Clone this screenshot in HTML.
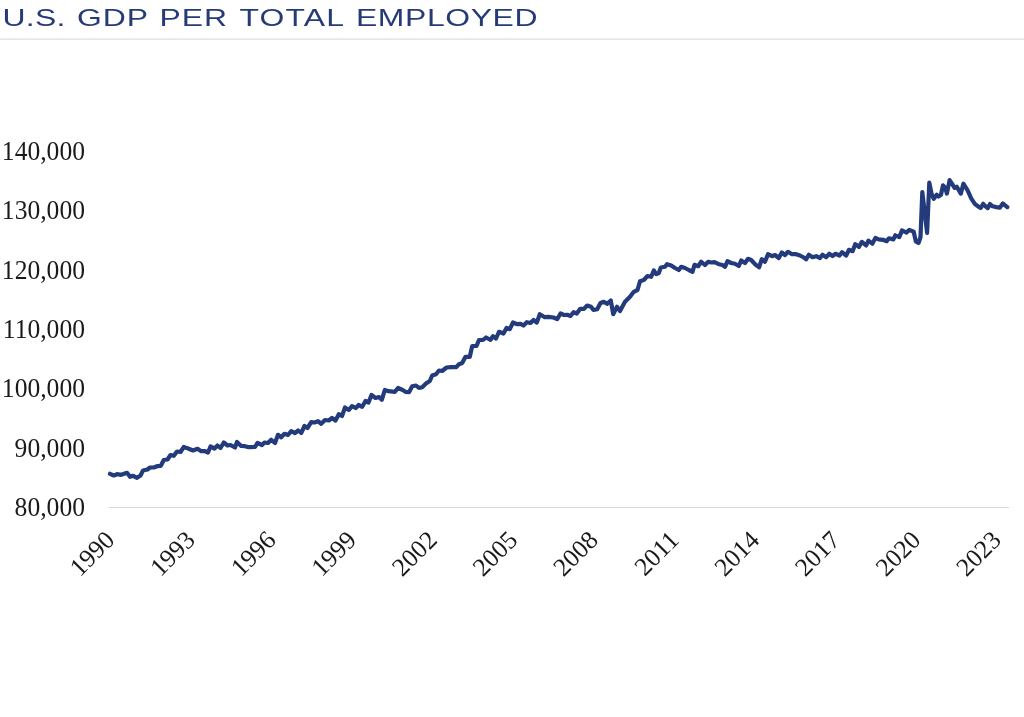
<!DOCTYPE html>
<html><head><meta charset="utf-8"><title>U.S. GDP per Total Employed</title>
<style>
html,body{margin:0;padding:0;background:#fff;}
body{width:1024px;height:717px;overflow:hidden;position:relative;font-family:"Liberation Serif",serif;}
svg{position:absolute;left:0;top:0;display:block}
.title{font-family:"Liberation Sans",sans-serif;font-size:24px;fill:#263a78;}
.yl{font-family:"Liberation Serif",serif;font-size:25.6px;fill:#1a1a1a;text-anchor:end;}
.xl{font-family:"Liberation Serif",serif;font-size:25.5px;fill:#1a1a1a;text-anchor:end;}
</style></head><body>
<svg width="1024" height="717" viewBox="0 0 1024 717">
<rect width="1024" height="717" fill="#fff"/>
<text class="title" transform="translate(0,25.8) scale(1.33,1)"><tspan x="1.88" textLength="47.37" lengthAdjust="spacing">U.S.</tspan> <tspan x="57.89" textLength="53.38" lengthAdjust="spacing">GDP</tspan> <tspan x="119.92" textLength="50.75" lengthAdjust="spacing">PER</tspan> <tspan x="180.08" textLength="78.57" lengthAdjust="spacing">TOTAL</tspan> <tspan x="267.67" textLength="136.47" lengthAdjust="spacing">EMPLOYED</tspan></text>
<rect x="0" y="38.5" width="1024" height="1.2" fill="#dcdcdc"/>
<rect x="109" y="507" width="900" height="1" fill="#d9d9d9"/>
<text class="yl" transform="translate(85,160.0) scale(1,1.05)">140,000</text>
<text class="yl" transform="translate(85,219.3) scale(1,1.05)">130,000</text>
<text class="yl" transform="translate(85,278.6) scale(1,1.05)">120,000</text>
<text class="yl" transform="translate(85,337.9) scale(1,1.05)">110,000</text>
<text class="yl" transform="translate(85,397.2) scale(1,1.05)">100,000</text>
<text class="yl" transform="translate(85,456.5) scale(1,1.05)">90,000</text>
<text class="yl" transform="translate(85,515.8) scale(1,1.05)">80,000</text>
<text class="xl" transform="translate(116.0,541.5) rotate(-45)">1990</text>
<text class="xl" transform="translate(196.6,541.5) rotate(-45)">1993</text>
<text class="xl" transform="translate(277.2,541.5) rotate(-45)">1996</text>
<text class="xl" transform="translate(357.8,541.5) rotate(-45)">1999</text>
<text class="xl" transform="translate(438.4,541.5) rotate(-45)">2002</text>
<text class="xl" transform="translate(519.0,541.5) rotate(-45)">2005</text>
<text class="xl" transform="translate(599.6,541.5) rotate(-45)">2008</text>
<text class="xl" transform="translate(680.2,541.5) rotate(-45)">2011</text>
<text class="xl" transform="translate(760.8,541.5) rotate(-45)">2014</text>
<text class="xl" transform="translate(841.4,541.5) rotate(-45)">2017</text>
<text class="xl" transform="translate(922.0,541.5) rotate(-45)">2020</text>
<text class="xl" transform="translate(1002.6,541.5) rotate(-45)">2023</text>
<path d="M110.0,473.8 L113.8,475.5 L117.0,474.2 L121.2,474.8 L127.0,472.8 L130.0,476.8 L133.2,475.8 L137.0,477.8 L140.5,475.5 L143.0,470.5 L147.5,469.5 L150.0,467.5 L153.8,467.5 L157.0,466.2 L160.8,465.8 L163.8,460.0 L167.5,459.5 L170.5,455.0 L173.8,455.8 L177.0,451.5 L180.5,452.0 L183.8,447.0 L187.5,448.2 L193.0,450.5 L197.5,448.8 L201.2,451.2 L204.5,451.0 L208.0,452.5 L210.5,446.5 L214.5,448.5 L217.5,445.5 L220.5,448.0 L223.8,442.5 L227.5,445.5 L230.5,445.0 L235.0,447.5 L237.0,442.0 L241.2,446.0 L245.0,446.2 L248.8,447.2 L255.0,446.8 L257.5,443.0 L262.0,445.0 L264.5,442.5 L268.0,443.0 L271.2,439.8 L275.0,443.0 L278.0,434.8 L281.2,437.2 L284.5,433.8 L288.0,435.0 L291.2,431.2 L295.0,433.0 L298.2,430.5 L301.2,433.0 L304.5,426.0 L307.5,428.0 L311.2,422.2 L314.5,422.5 L318.0,421.2 L321.2,423.8 L325.0,420.0 L328.8,420.5 L332.0,418.0 L335.5,420.5 L338.8,414.2 L342.0,416.0 L345.0,407.5 L348.8,410.0 L352.0,406.2 L356.0,408.0 L358.5,405.0 L362.2,406.8 L365.5,401.0 L368.5,402.5 L371.5,395.0 L375.5,398.0 L379.0,397.0 L381.8,399.8 L384.8,390.0 L388.5,391.2 L394.8,391.8 L398.0,388.0 L402.2,389.8 L405.5,391.8 L409.0,392.2 L412.2,386.2 L416.0,385.5 L419.0,388.0 L422.2,387.2 L426.0,383.5 L429.8,381.0 L432.2,375.5 L436.0,374.2 L439.0,370.5 L442.2,371.0 L446.5,367.5 L451.0,367.2 L456.0,367.2 L459.0,364.2 L462.2,363.0 L465.5,356.8 L469.8,356.8 L472.2,346.0 L476.5,346.0 L479.0,340.0 L483.0,340.0 L486.0,337.5 L490.5,339.8 L493.0,336.2 L496.0,338.5 L499.0,331.8 L503.5,333.5 L506.5,328.0 L509.8,329.2 L513.0,322.5 L517.2,324.2 L520.5,323.8 L523.5,325.5 L526.8,322.2 L530.5,323.0 L533.5,320.0 L536.8,322.5 L539.8,314.2 L544.8,317.2 L548.5,316.8 L553.5,317.5 L557.2,319.2 L560.5,313.5 L564.0,315.0 L567.2,314.8 L570.5,316.0 L573.5,312.2 L576.8,313.5 L580.2,308.8 L584.0,308.8 L587.2,305.5 L591.0,306.8 L593.5,310.0 L597.2,309.2 L600.5,303.0 L603.8,301.8 L607.0,303.8 L610.8,300.5 L613.2,314.2 L617.0,306.8 L620.0,311.0 L625.0,301.8 L630.0,296.8 L633.8,291.8 L637.5,290.0 L640.0,281.2 L643.8,280.0 L647.5,276.0 L651.2,276.8 L653.8,270.5 L656.2,274.2 L658.8,273.0 L660.8,267.5 L665.0,266.8 L667.0,264.2 L671.2,265.5 L675.0,268.0 L678.8,270.0 L681.2,266.8 L685.0,268.0 L688.8,270.0 L692.5,271.8 L694.5,264.8 L698.2,266.2 L701.2,261.8 L705.0,265.0 L708.2,261.8 L711.2,262.5 L714.5,262.2 L718.8,264.2 L722.5,265.0 L725.0,266.8 L727.5,261.2 L731.2,263.0 L735.0,263.8 L738.8,266.0 L741.2,260.5 L745.0,263.0 L748.0,258.8 L751.2,260.0 L755.0,264.2 L759.2,267.2 L761.8,259.2 L765.0,261.8 L768.0,254.2 L772.0,256.2 L775.0,255.0 L778.8,258.0 L781.8,252.5 L785.0,255.0 L788.0,251.8 L792.0,254.2 L796.2,254.2 L800.0,255.5 L803.8,257.5 L806.2,259.2 L808.8,254.8 L812.5,257.2 L816.2,256.2 L820.0,258.0 L822.5,254.8 L826.2,257.2 L829.2,253.8 L832.5,256.0 L835.5,253.8 L839.5,255.5 L842.0,252.2 L846.2,255.5 L849.0,249.8 L852.6,251.2 L855.3,244.1 L858.9,246.9 L861.9,241.9 L866.1,245.5 L868.4,240.7 L872.3,243.7 L875.4,238.0 L878.6,239.4 L883.1,239.8 L886.7,241.2 L888.9,238.3 L893.4,239.4 L895.3,235.3 L899.3,237.1 L902.0,230.4 L906.5,232.6 L909.2,229.9 L913.7,231.7 L915.8,241.4 L918.5,243.0 L920.5,237.2 L922.3,192.1 L927.1,232.8 L929.3,182.6 L931.6,193.9 L933.8,198.8 L936.7,194.8 L938.5,196.6 L941.0,194.8 L943.0,185.3 L945.1,187.7 L946.9,193.6 L949.6,180.1 L952.3,184.1 L954.6,188.0 L956.8,186.8 L960.8,193.6 L963.4,183.7 L967.6,190.3 L971.2,198.4 L974.8,203.8 L978.4,206.7 L980.7,208.0 L983.2,203.8 L985.5,206.3 L987.7,208.1 L990.0,204.0 L992.7,206.3 L996.3,207.1 L999.9,207.6 L1002.8,203.5 L1005.1,205.3 L1007.3,207.1" fill="none" stroke="#233b7d" stroke-width="4.2" stroke-linejoin="round" stroke-linecap="round"/>
</svg></body></html>
